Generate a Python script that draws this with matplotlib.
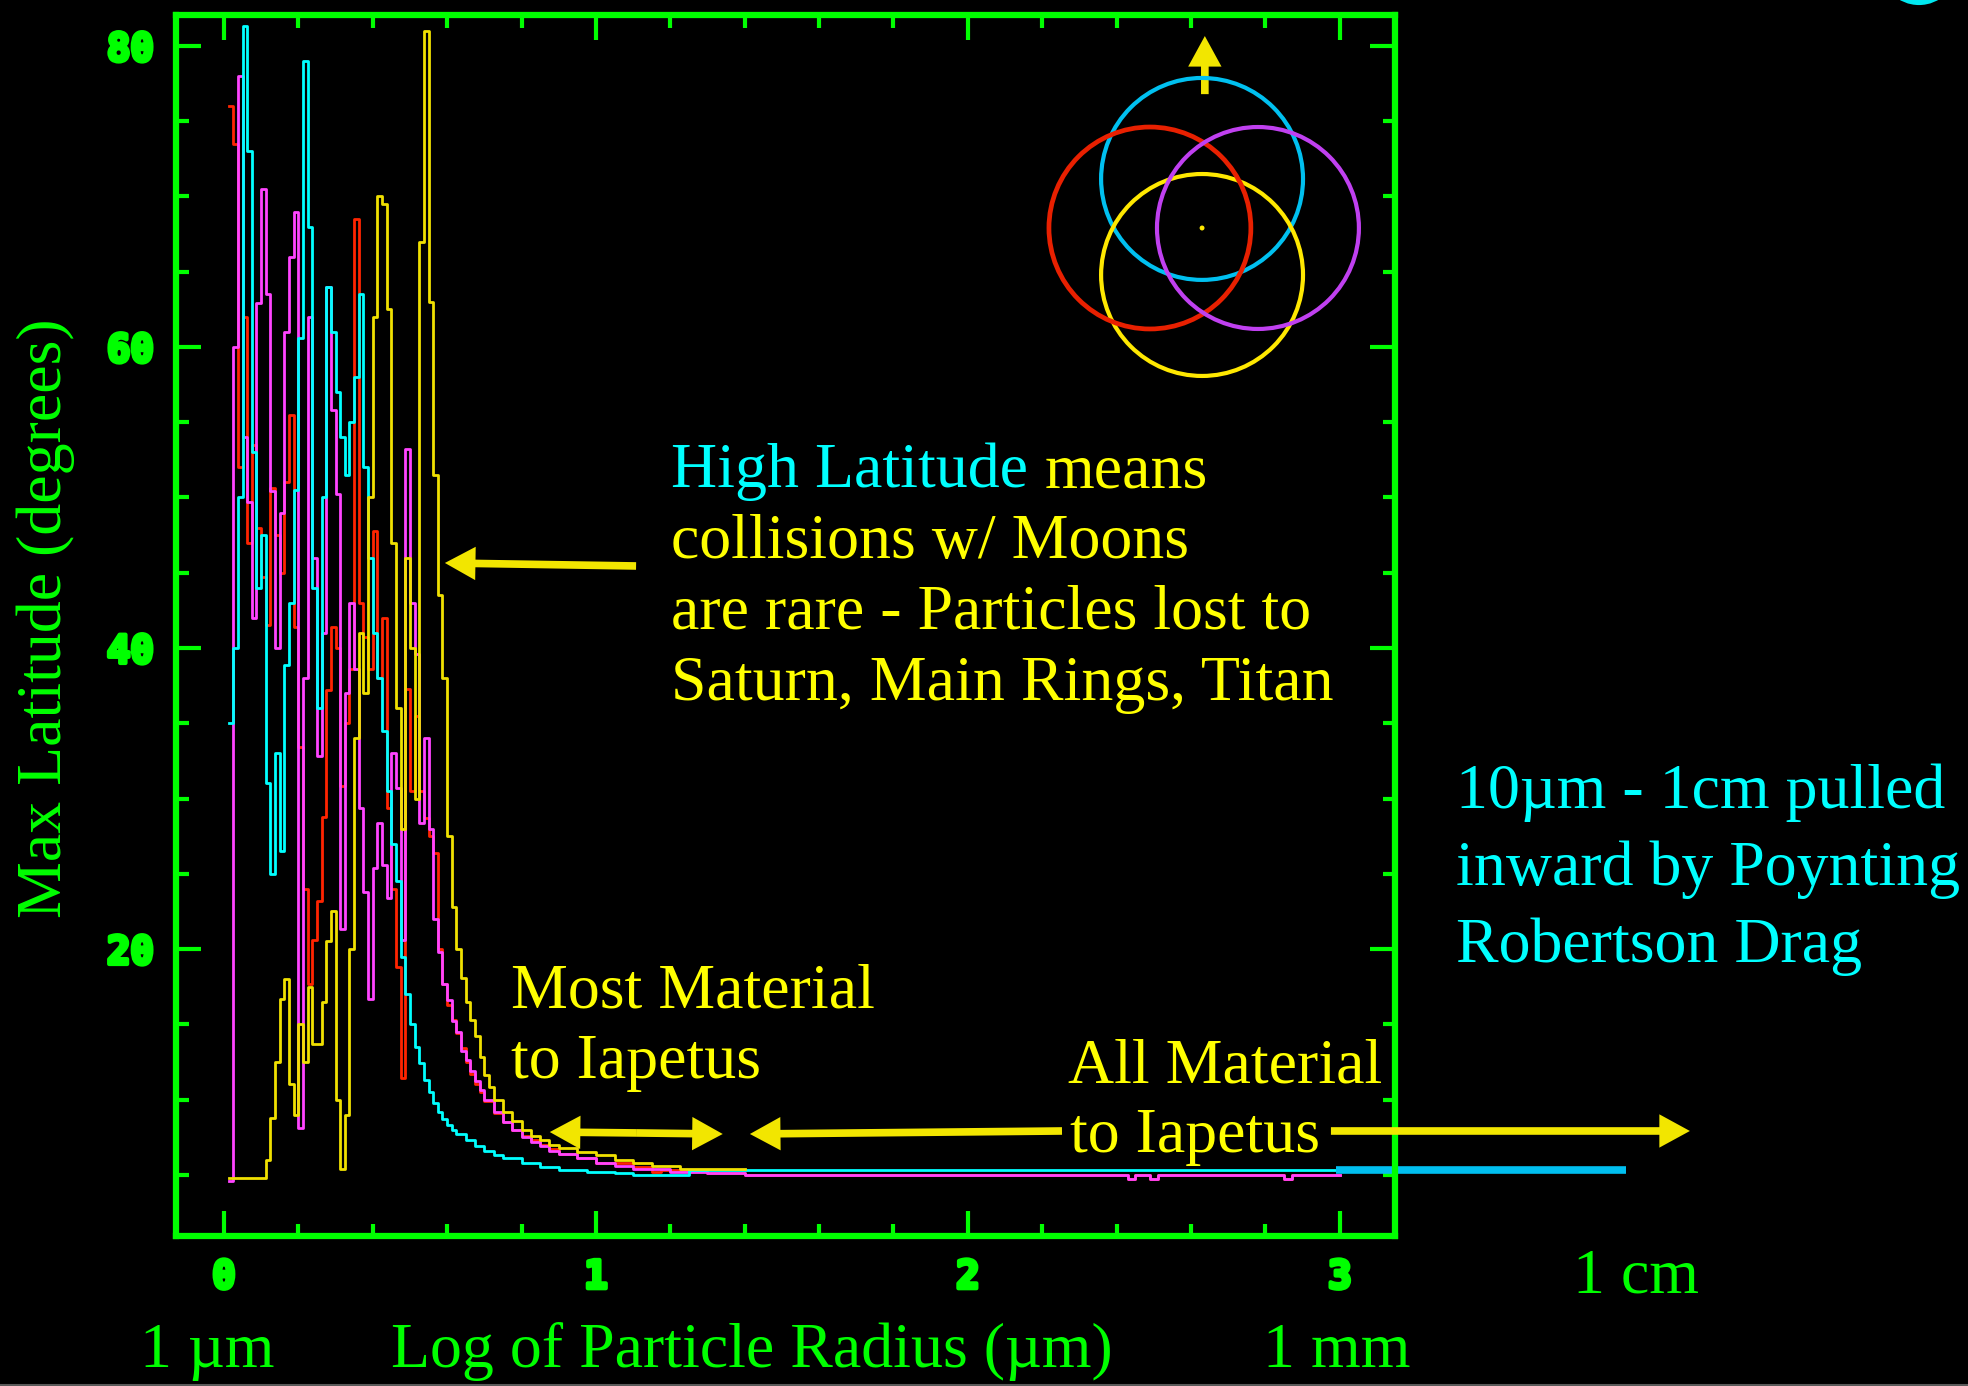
import numpy as np
import matplotlib
matplotlib.use('Agg')
import matplotlib.pyplot as plt
import matplotlib.patheffects as pe
from matplotlib.patches import Ellipse
from matplotlib.lines import Line2D

# log10 of particle radius (um) for the fine bins of the chaotic small-grain region
bin_x = [0.0125, 0.025, 0.0375, 0.05, 0.0625, 0.075, 0.0875, 0.1, 0.1125, 0.125,
         0.1375, 0.15, 0.1625, 0.175, 0.1875, 0.2, 0.2125, 0.225, 0.2375, 0.25,
         0.2625, 0.275, 0.2875, 0.3, 0.3125, 0.325, 0.3375, 0.35, 0.3625, 0.375,
         0.3875, 0.4, 0.4125, 0.425, 0.4375, 0.45, 0.4625, 0.475, 0.4875, 0.5,
         0.5125, 0.525, 0.5375, 0.55, 0.5625, 0.575, 0.5875, 0.6]

# max latitude (deg) per bin, one run per colour
red_lo = [76, 73.5, 52, 62, 47, 53.5, 48, 44.7, 41.5, 50.6,
          47.5, 45, 51, 55.5, 41.4, 33.4, 24, 17.7, 20.6, 23.2,
          28.8, 37.2, 41.4, 40, 30.8, 35, 38.6, 68.5, 43, 40.7,
          38.6, 47.8, 38, 42, 29.4, 24, 18.8, 11.4, 37.3, 30.5,
          35.5, 30.5, 28.7, 27.5, 26.4, 20, 17.7, 16.3]
magenta_lo = [4.6, 60, 78, 54, 49.7, 42, 62.9, 70.5, 63.5, 50.4,
              40, 49, 61, 66, 69, 8.1, 38, 62, 46, 32.8,
              41, 64, 55.8, 50.2, 21.3, 37, 43, 38.6, 29.4, 23.8,
              16.7, 25.4, 28.4, 25.6, 23.4, 33, 30.7, 20.6, 53.2, 43,
              39.6, 28.4, 34, 28, 22, 19.8, 17.7, 16.6]
cyan_lo = [35, 40, 50, 81.3, 73, 53, 44, 47.5, 31, 25,
           33, 26.5, 38.9, 43, 50.5, 60.6, 79, 68, 44, 36,
           50, 64, 61, 57, 54, 51.5, 55, 58, 63.5, 52,
           46, 41, 38, 34.5, 30.5, 27, 24.5, 19.5, 17, 15,
           13.5, 12.4, 11.3, 10.5, 9.8, 9.2, 8.7, 8.3]
yellow_lo = [4.8, 4.8, 4.8, 4.8, 4.8, 4.8, 4.8, 4.8, 6.0, 8.8,
             12.5, 16.7, 18.0, 11.0, 9.0, 15.0, 12.5, 17.5, 13.7, 13.7,
             16.5, 20.5, 22.5, 10.0, 5.4, 9.0, 20.0, 34.0, 41.0, 37.0,
             50.0, 62.0, 70.0, 69.5, 62.5, 47.0, 36.0, 28.0, 46.0, 40.0,
             30.0, 67.0, 81.0, 63.0, 51.5, 43.5, 38.0, 27.5]

# smooth decay toward the equatorial plane for the larger grains
red_tail_x = [0.6125, 0.625, 0.6375, 0.65, 0.6625, 0.675, 0.6875, 0.7, 0.725, 0.75,
              0.775, 0.8, 0.825, 0.85, 0.875, 0.9, 0.95, 1.0, 1.1, 1.15,
              1.175, 1.3, 1.4, 2.43, 2.45, 2.49, 2.51, 2.85, 2.87, 3.0]
red_tail_y = [15.3, 14.4, 13.4, 12.5, 11.7, 11.0, 10.5, 9.9, 9.1, 8.5,
              8.0, 7.6, 7.3, 7.0, 6.7, 6.4, 6.1, 5.8, 5.5, 5.2,
              5.3, 5.1, 5.0, 4.75, 5.0, 4.75, 5.0, 4.75, 5.0, 5.0]
magenta_tail_x = [0.6125, 0.625, 0.6375, 0.65, 0.6625, 0.675, 0.6875, 0.7, 0.725, 0.75,
                  0.775, 0.8, 0.825, 0.85, 0.875, 0.9, 0.95, 1.0, 1.05, 1.1,
                  1.2, 1.3, 1.4, 2.43, 2.45, 2.49, 2.51, 2.85, 2.87, 3.0]
magenta_tail_y = [15.2, 14.5, 13.2, 12.6, 11.9, 11.2, 10.6, 10.0, 9.2, 8.5,
                  8.0, 7.5, 7.2, 6.9, 6.6, 6.4, 6.1, 5.8, 5.6, 5.4,
                  5.2, 5.1, 5.0, 4.75, 5.0, 4.75, 5.0, 4.75, 5.0, 5.0]
cyan_tail_x = [0.6125, 0.625, 0.65, 0.675, 0.7, 0.725, 0.75, 0.8, 0.85, 0.9,
               0.975, 1.05, 1.1, 1.25, 3.0]
cyan_tail_y = [8.0, 7.7, 7.3, 6.9, 6.6, 6.3, 6.1, 5.8, 5.5, 5.35,
               5.2, 5.1, 5.0, 5.3, 5.3]
yellow_tail_x = [0.6125, 0.625, 0.6375, 0.65, 0.6625, 0.675, 0.6875, 0.7, 0.7125, 0.725,
                 0.75, 0.775, 0.8, 0.825, 0.85, 0.875, 0.9, 0.95, 1.0, 1.05,
                 1.1, 1.15, 1.225, 1.4]
yellow_tail_y = [22.8, 20.0, 18.1, 16.5, 15.3, 14.2, 12.8, 11.6, 10.8, 10.0,
                 9.2, 8.6, 8.0, 7.6, 7.3, 7.0, 6.8, 6.5, 6.3, 6.0,
                 5.8, 5.6, 5.4, 5.4]

# Poynting-Robertson drag range extended past 1 mm
pr_x = [2.99, 3.77]
pr_y = [5.3, 5.3]

GREEN = '#00FF00'
YEL = '#FFFF00'
ARROW_YEL = '#F2E600'
CYAN = '#00FFFF'
SERIF = 'Liberation Serif'

fig = plt.figure(figsize=(19.68, 13.86), dpi=100, facecolor='black')
ax = fig.add_axes([0.0894, 0.1082, 0.6194, 0.8810])
ax.set_facecolor('black')

runs = [
    (red_lo, red_tail_x, red_tail_y, '#FF2400'),
    (magenta_lo, magenta_tail_x, magenta_tail_y, '#FF44FF'),
    (cyan_lo, cyan_tail_x, cyan_tail_y, CYAN),
    (yellow_lo, yellow_tail_x, yellow_tail_y, '#F0E000'),
]
for lo, tx, ty, col in runs:
    xs = np.concatenate([bin_x, tx])
    ys = np.concatenate([lo, ty])
    ax.plot(xs, ys, drawstyle='steps-post', color=col, lw=2.0)

ax.plot(pr_x, pr_y, color='#00BFF0', lw=5.5, solid_capstyle='butt', clip_on=False)

ax.set_xlim(-0.129, 3.148)
ax.set_ylim(0.93, 82.06)
ax.set_xticks([0, 1, 2, 3])
ax.set_xticks(np.arange(0, 3.1, 0.2), minor=True)
ax.set_yticks([20, 40, 60, 80])
ax.set_yticks(np.arange(5, 81, 5), minor=True)
ax.tick_params(which='both', direction='in', top=True, right=True,
               color=GREEN, width=3)
ax.tick_params(which='major', length=18, pad=16)
ax.tick_params(which='minor', length=9)
# chunky plotter-style digits
for lab in ax.get_xticklabels() + ax.get_yticklabels():
    lab.set_fontfamily('DejaVu Sans Mono')
    lab.set_fontweight('bold')
    lab.set_fontsize(28)
    lab.set_color(GREEN)
    lab.set_path_effects([pe.withStroke(linewidth=3, foreground=GREEN)])
for sp in ax.spines.values():
    sp.set_color(GREEN)
    sp.set_linewidth(4.5)

# arrows
def arrow(tail, head):
    ax.annotate('', xy=head, xytext=tail, xycoords='data', textcoords='data',
                annotation_clip=False,
                arrowprops=dict(arrowstyle='simple,head_length=22,head_width=24,tail_width=5.5',
                                mutation_scale=1, fc=ARROW_YEL, ec='none',
                                shrinkA=0, shrinkB=0))

arrow((1.108, 45.45), (0.594, 45.65))
arrow((1.108, 7.78), (0.876, 7.84))
arrow((1.108, 7.78), (1.341, 7.71))
arrow((2.253, 7.91), (1.414, 7.71))
arrow((2.976, 7.91), (3.941, 7.91))
arrow((2.637, 76.8), (2.637, 80.66))

# orbit sketch
ew, eh = 0.1026, 0.1457
for cx, cy, col, lw in [(0.6108, 0.8709, '#00C0F0', 3.0),
                        (0.6108, 0.8016, '#FFE800', 3.0),
                        (0.5843, 0.8355, '#E82000', 3.4),
                        (0.6392, 0.8355, '#C040F0', 3.0)]:
    fig.patches.append(Ellipse((cx, cy), ew, eh, transform=fig.transFigure,
                               fill=False, ec=col, lw=lw))
fig.patches.append(Ellipse((0.6108, 0.8355), 0.0025, 0.0036, transform=fig.transFigure,
                           fc='#FFE800', ec='none'))
fig.patches.append(Ellipse((0.9751, 1.0242), 0.0392, 0.0557, transform=fig.transFigure,
                           fc='#00E8F0', ec='none'))

# annotations
fs = 46
fig.text(0.3410, 0.6486, 'High Latitude', color=CYAN, fontsize=fs, family=SERIF, va='baseline')
fig.text(0.5310, 0.6486, 'means', color=YEL, fontsize=fs, family=SERIF, va='baseline')
fig.text(0.3410, 0.5974, 'collisions w/ Moons', color=YEL, fontsize=fs, family=SERIF, va='baseline')
fig.text(0.3410, 0.5462, 'are rare - Particles lost to', color=YEL, fontsize=fs, family=SERIF, va='baseline')
fig.text(0.3410, 0.4949, 'Saturn, Main Rings, Titan', color=YEL, fontsize=fs, family=SERIF, va='baseline')

fig.text(0.2597, 0.2734, 'Most Material', color=YEL, fontsize=fs, family=SERIF, va='baseline')
fig.text(0.2597, 0.2222, 'to Iapetus', color=YEL, fontsize=fs, family=SERIF, va='baseline')
fig.text(0.5427, 0.2193, 'All Material', color=YEL, fontsize=fs, family=SERIF, va='baseline')
fig.text(0.5437, 0.1688, 'to Iapetus', color=YEL, fontsize=fs, family=SERIF, va='baseline')

fig.text(0.7398, 0.4170, '10\u00b5m - 1cm pulled', color=CYAN, fontsize=fs, family=SERIF, va='baseline')
fig.text(0.7398, 0.3615, 'inward by Poynting', color=CYAN, fontsize=fs, family=SERIF, va='baseline')
fig.text(0.7398, 0.3059, 'Robertson Drag', color=CYAN, fontsize=fs, family=SERIF, va='baseline')

fig.text(0.0234, 0.5541, 'Max Latitude (degrees)', color=GREEN, fontsize=fs, family=SERIF,
         rotation=90, ha='center', va='center')
fig.text(0.1052, 0.0137, '1 \u00b5m', color=GREEN, fontsize=fs, family=SERIF, ha='center', va='baseline')
fig.text(0.3821, 0.0137, 'Log of Particle Radius (\u00b5m)', color=GREEN, fontsize=fs, family=SERIF,
         ha='center', va='baseline')
fig.text(0.6794, 0.0137, '1 mm', color=GREEN, fontsize=fs, family=SERIF, ha='center', va='baseline')
fig.text(0.8313, 0.0678, '1 cm', color=GREEN, fontsize=fs, family=SERIF, ha='center', va='baseline')

fig.add_artist(Line2D([0, 1], [0.0007, 0.0007], color='#5a5a5a', lw=1.5, transform=fig.transFigure))

fig.savefig('out.png', dpi=100, facecolor='black')
